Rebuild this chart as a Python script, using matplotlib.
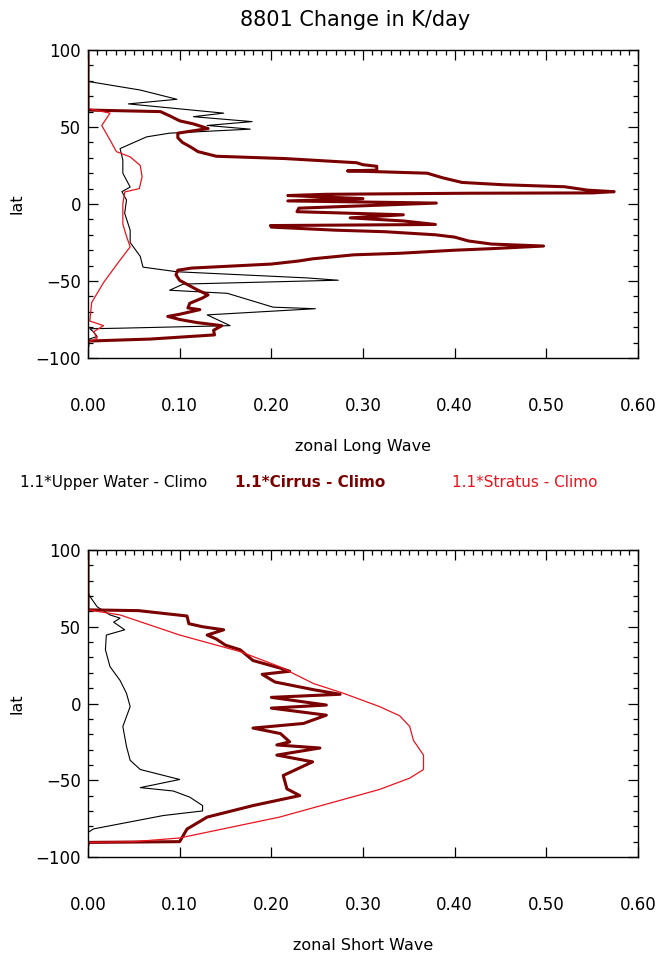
import numpy as np
import matplotlib
matplotlib.use("Agg")
import matplotlib.pyplot as plt
from matplotlib.ticker import MultipleLocator, FormatStrFormatter

plt.rcParams['font.family'] = ['DejaVu Sans']

# ---- zonal Long Wave (top panel): value, lat pairs ----
lw_water_x = [0.0, 0.0, 0.002, 0.057, 0.097, 0.044, 0.148, 0.115, 0.179, 0.13, 0.177, 0.089,
              0.064, 0.035, 0.038, 0.038, 0.046, 0.037, 0.042, 0.040, 0.046, 0.046, 0.057, 0.06,
              0.097, 0.239, 0.273, 0.104, 0.089, 0.152, 0.202, 0.248, 0.13, 0.155, 0.038, 0.002,
              0.006, 0.01, 0.0, 0.0]
lw_water_lat = [98, 80, 79.4, 74, 68, 65, 59, 56.7, 53.5, 51, 48.6, 46,
                43.6, 36, 28.6, 20, 11, 8, 2.6, -6, -17, -25, -34, -41,
                -44, -48, -49.5, -52, -56, -58, -67, -68, -72, -79, -80.6, -81,
                -83, -86, -88, -92]

lw_cirrus_x = [0.0, 0.0, 0.079, 0.09, 0.10, 0.115, 0.131, 0.098, 0.098, 0.103, 0.112, 0.12,
               0.14, 0.215, 0.293, 0.30, 0.315, 0.315, 0.283, 0.326, 0.37, 0.387, 0.408, 0.453,
               0.52, 0.545, 0.574, 0.55, 0.417, 0.26, 0.218, 0.30, 0.218, 0.38, 0.23, 0.228,
               0.344, 0.286, 0.344, 0.379, 0.199, 0.20, 0.27, 0.324, 0.379, 0.40, 0.415, 0.44,
               0.497, 0.44, 0.40, 0.34, 0.29, 0.245, 0.23, 0.2, 0.15, 0.113, 0.098, 0.096,
               0.1, 0.12, 0.131, 0.125, 0.111, 0.109, 0.122, 0.10, 0.087, 0.10, 0.119, 0.146,
               0.137, 0.138, 0.068, 0.0, 0.0]
lw_cirrus_lat = [98, 61, 60, 57, 54, 52, 49, 46, 43, 40, 37, 34,
                 31, 29.5, 26.8, 25.5, 24.5, 22, 21.5, 20.8, 20, 17, 14, 12.5,
                 11.2, 9, 8, 7.2, 7, 6.3, 5.5, 3.5, 2, 0.6, -2.7, -5,
                 -7, -9, -11, -13.3, -14, -15, -17, -18, -20, -21.5, -24, -26,
                 -27.3, -29, -30, -32, -33, -35.6, -37, -39, -40.5, -41.6, -43, -46,
                 -49.6, -56, -59, -61, -64.5, -67.5, -68.6, -71.6, -73, -75, -77, -79,
                 -82, -85, -87.7, -89, -92]

lw_stratus_x = [0.0, 0.0, 0.024, 0.015, 0.024, 0.031, 0.046, 0.057, 0.059, 0.056, 0.04, 0.038,
                0.038, 0.042, 0.046, 0.033, 0.017, 0.004, 0.002, 0.017, 0.006, 0.01, 0.0, 0.0]
lw_stratus_lat = [98, 62, 59, 51, 41.6, 34, 30.6, 25, 17.7, 10, 7.8, 0,
                  -13, -21, -27.8, -38, -51, -64, -76, -79, -83, -87, -90, -92]

# ---- zonal Short Wave (bottom panel) ----
sw_water_x = [0.0, 0.0, 0.003, 0.01, 0.024, 0.035, 0.028, 0.04, 0.02, 0.019, 0.024, 0.035,
              0.042, 0.046, 0.038, 0.042, 0.046, 0.057, 0.1, 0.057, 0.093, 0.111, 0.125, 0.125,
              0.082, 0.006, 0.0, 0.0]
sw_water_lat = [98, 72, 69, 63, 57.7, 55.6, 53, 48, 44.6, 35, 24, 15,
                6.6, -2, -15, -28, -37, -43, -49.5, -54.8, -57, -61, -66.5, -70,
                -73, -81.7, -84, -92]

sw_cirrus_x = [0.0, 0.0, 0.055, 0.108, 0.11, 0.125, 0.148, 0.13, 0.14, 0.15, 0.166, 0.18,
               0.21, 0.22, 0.19, 0.204, 0.246, 0.275, 0.2, 0.26, 0.2, 0.26, 0.235, 0.18,
               0.21, 0.22, 0.206, 0.253, 0.206, 0.245, 0.213, 0.217, 0.231, 0.18, 0.13, 0.108,
               0.1, 0.0, 0.0]
sw_cirrus_lat = [98, 61, 60.5, 57, 52, 50, 48, 44.6, 42, 38, 35, 28,
                 23, 21, 19, 14, 9, 6, 4, -1, -3, -7.6, -13, -16,
                 -19.6, -25, -27, -29, -33.6, -38, -46.9, -55.6, -60, -66.5, -74, -81.8,
                 -90, -90.5, -92]

sw_stratus_x = [0.0, 0.0, 0.035, 0.1, 0.166, 0.209, 0.246, 0.278, 0.318, 0.34, 0.351, 0.355,
                0.366, 0.366, 0.351, 0.318, 0.209, 0.1, 0.05, 0.0, 0.0]
sw_stratus_lat = [98, 61, 57.7, 44.6, 33.8, 24, 13, 6.8, -2, -8, -15, -24,
                  -33.6, -43, -48.6, -56, -74, -87.6, -90, -90.5, -92]

x_ticks = [0.0, 0.1, 0.2, 0.3, 0.4, 0.5, 0.6]
y_ticks = [-100, -50, 0, 50, 100]
legend_labels = ['1.1*Upper Water - Climo', '1.1*Cirrus - Climo', '1.1*Stratus - Climo']

DARKRED = '#7a0000'
RED = '#e8141e'

W, H = 672, 955
fig = plt.figure(figsize=(W / 100, H / 100), dpi=100)


def style_axis(ax, xlabel):
    ax.set_xlim(0, 0.6)
    ax.set_ylim(-100, 100)
    ax.set_xticks(x_ticks)
    ax.set_yticks(y_ticks)
    ax.xaxis.set_major_formatter(FormatStrFormatter('%.2f'))
    ax.xaxis.set_minor_locator(MultipleLocator(0.01))
    ax.yaxis.set_minor_locator(MultipleLocator(10))
    ax.tick_params(which='both', direction='in', top=True, right=True, width=0.9)
    # IDL-like: no minor ticks along the bottom edge
    ax.tick_params(axis='x', which='minor', bottom=False)
    ax.tick_params(which='major', length=7)
    ax.tick_params(which='minor', length=3.5)
    ax.tick_params(axis='x', which='major', pad=28, labelsize=12)
    ax.tick_params(axis='y', which='major', pad=5, labelsize=12)
    for s in ax.spines.values():
        s.set_linewidth(1.0)
    ax.set_xlabel(xlabel, fontsize=11.5, labelpad=17)
    ax.set_ylabel('lat', fontsize=11.5, labelpad=8)


# top panel
ax1 = fig.add_axes([88 / W, 1 - 358 / H, 550 / W, 308 / H])
ax1.plot(lw_water_x, lw_water_lat, color='black', lw=0.8)
ax1.plot(lw_cirrus_x, lw_cirrus_lat, color=DARKRED, lw=2.2)
ax1.plot(lw_stratus_x, lw_stratus_lat, color=RED, lw=0.9)
style_axis(ax1, 'zonal Long Wave')

# bottom panel
ax2 = fig.add_axes([88 / W, 1 - 857 / H, 550 / W, 307 / H])
ax2.plot(sw_water_x, sw_water_lat, color='black', lw=0.8)
ax2.plot(sw_cirrus_x, sw_cirrus_lat, color=DARKRED, lw=2.2)
ax2.plot(sw_stratus_x, sw_stratus_lat, color=RED, lw=0.9)
style_axis(ax2, 'zonal Short Wave')

fig.text(355 / W, 1 - 20 / H, '8801 Change in K/day', ha='center', va='center', fontsize=15)

fig.text(20 / W, 1 - 482 / H, legend_labels[0], color='black', ha='left', va='center', fontsize=11)
fig.text(235 / W, 1 - 482 / H, legend_labels[1], color=DARKRED, ha='left', va='center',
         fontsize=11, fontweight='bold')
fig.text(452 / W, 1 - 482 / H, legend_labels[2], color=RED, ha='left', va='center', fontsize=11)

fig.savefig('out.png', dpi=100)
